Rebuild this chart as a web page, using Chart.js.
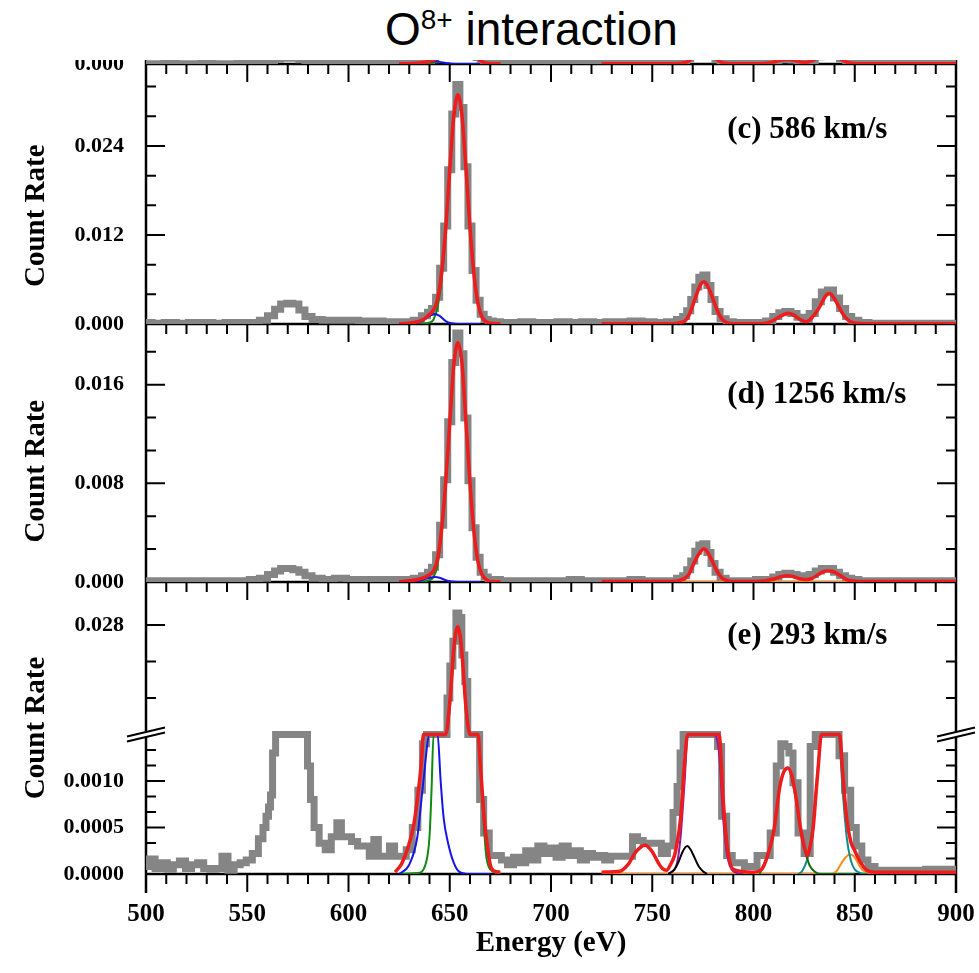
<!DOCTYPE html>
<html>
<head>
<meta charset="utf-8">
<script src="https://cdn.jsdelivr.net/npm/chart.js@4.4.1/dist/chart.umd.min.js"></script>
<style>
  html, body { margin: 0; padding: 0; background: #fff; }
  #wrap { position: relative; width: 979px; height: 973px; }
  #box { position: absolute; left: 0; top: 0; width: 979px; height: 973px; }
  #title { position: absolute; left: 0; top: 0; width: 979px; height: 60px; background: #fff; z-index: 2;
           font-family: "Liberation Sans", Arial, sans-serif; font-size: 46px; line-height: 58px; color: #000;
           padding-left: 385px; box-sizing: border-box; white-space: nowrap; }
  #title sup { font-size: 28px; vertical-align: 0; position: relative; top: -16px; }
</style>
</head>
<body>
<div id="wrap">
  <div id="box"><canvas id="myChart"></canvas></div>
  <div id="title">O<sup>8+</sup> interaction</div>
</div>
<script>
const serif = '"Liberation Serif", "Times New Roman", serif';

// measured spectra of panels b, c, d (one energy grid, eV)
const gridE = [500,506,512,518,524,530,536,542,548,554,
  558,562,565,568,571,574,577,580,584,590,
  596,602,608,614,620,625,630,634,638,640,
  642,644,646,648,650,652,654,656,658,660,
  662,664,666,668,670,673,677,682,688,694,
  700,706,712,718,724,730,736,742,748,754,
  760,764,766,768,770,772,774,776,778,780,
  782,785,788,792,798,804,808,811,814,817,
  820,823,826,829,832,835,838,841,844,847,
  850,854,860,866,872,878,884,890,896,900];
const grayB = [0.0002,0.0002,0.0003,0.0002,0.0002,0.0003,0.0002,0.0002,0.0003,0.0003,
  0.0008,0.0022,0.0036,0.0044,0.0046,0.0043,0.0032,0.0016,0.0007,0.0004,
  0.0004,0.0003,0.0004,0.0003,0.0004,0.0005,0.0005,0.0008,0.0014,0.0022,
  0.0032,0.0058,0.0110,0.0190,0.0290,0.0380,0.0420,0.0380,0.0280,0.0180,
  0.0098,0.0048,0.0020,0.0009,0.0005,0.0004,0.0003,0.0003,0.0003,0.0003,
  0.0003,0.0003,0.0004,0.0003,0.0003,0.0004,0.0004,0.0004,0.0004,0.0004,
  0.0005,0.0012,0.0022,0.0040,0.0066,0.0095,0.0115,0.0118,0.0095,0.0060,
  0.0032,0.0012,0.0005,0.0004,0.0004,0.0004,0.0008,0.0020,0.0032,0.0036,
  0.0030,0.0018,0.0012,0.0026,0.0055,0.0080,0.0086,0.0066,0.0038,0.0018,
  0.0008,0.0004,0.0003,0.0003,0.0003,0.0003,0.0003,0.0003,0.0003,0.0003];
const grayC = [0.0002,0.0001,0.0002,0.0001,0.0002,0.0002,0.0001,0.0002,0.0002,0.0002,
  0.0005,0.0011,0.0020,0.0027,0.0028,0.0027,0.0019,0.0010,0.0006,0.0005,
  0.0005,0.0005,0.0004,0.0004,0.0003,0.0003,0.0003,0.0005,0.0011,0.0016,
  0.0021,0.0036,0.0075,0.0132,0.0208,0.0283,0.0323,0.0292,0.0212,0.0132,
  0.0072,0.0032,0.0013,0.0006,0.0004,0.0003,0.0002,0.0002,0.0003,0.0002,
  0.0002,0.0003,0.0002,0.0003,0.0002,0.0003,0.0003,0.0004,0.0003,0.0002,
  0.0003,0.0006,0.0010,0.0018,0.0033,0.0050,0.0063,0.0066,0.0052,0.0033,
  0.0017,0.0007,0.0003,0.0002,0.0002,0.0002,0.0004,0.0010,0.0015,0.0017,
  0.0014,0.0009,0.0006,0.0014,0.0030,0.0043,0.0046,0.0035,0.0021,0.0010,
  0.0005,0.0002,0.0001,0.0001,0.0001,0.0001,0.0001,0.0001,0.0001,0.0001];
const grayD = [0.0001,0.0001,0.0001,0.0001,0.0001,0.0001,0.0001,0.0001,0.0001,0.0002,
  0.0003,0.0006,0.0009,0.0011,0.0011,0.0010,0.0008,0.0005,0.0003,0.0002,
  0.0003,0.0002,0.0002,0.0002,0.0002,0.0002,0.0002,0.0003,0.0005,0.0008,
  0.0012,0.0022,0.0046,0.0083,0.0130,0.0178,0.0202,0.0185,0.0133,0.0082,
  0.0044,0.0020,0.0008,0.0004,0.0002,0.0002,0.0001,0.0001,0.0001,0.0001,
  0.0001,0.0001,0.0002,0.0001,0.0001,0.0001,0.0001,0.0002,0.0001,0.0001,
  0.0001,0.0003,0.0005,0.0010,0.0017,0.0025,0.0030,0.0031,0.0024,0.0015,
  0.0008,0.0003,0.0001,0.0001,0.0001,0.0002,0.0002,0.0004,0.0006,0.0007,
  0.0006,0.0005,0.0004,0.0006,0.0009,0.0011,0.0011,0.0008,0.0005,0.0003,
  0.0002,0.0001,0.0001,0.0001,0.0001,0.0001,0.0001,0.0001,0.0001,0.0001];

// fit energies shared by panels b, c, d
const fit1E = [625,630,634,636,638,640,642,644,646,648,650,652,654,656,658,660,662,664,666,668,670,675];
const fit2E = [725,760,764,766,768,770,772,774,775.5,777,779,781,783,785,787,790,800,806,810,813,
  817,820,823,826,829,832,834,836,837.5,840,842,844,846,848,851,856,860,900];
const blueGridE = [630,634,637,640,642.5,645,648,651,654,665];

// panel b (only its lower edge is visible)
const fitB1 = [0.0001,0.0002,0.0005,0.0009,0.0014,0.002,0.003,0.0055,0.0105,0.018,0.028,0.037,0.040,0.037,0.028,0.018,0.0095,0.0042,0.0016,0.0006,0.0002,0.0001];
const greenB1 = [0,0.00002,0.00005,0.0001,0.0002,0.0004,0.001,0.0036,0.0092,0.0175,0.0277,0.0368,0.040,0.037,0.028,0.018,0.0095,0.0042,0.0016,0.0006,0.0002,0];
const blueB = [0,0.0003,0.0009,0.0016,0.002,0.0016,0.0007,0.0002,0.00003,0];
const fitB2 = [0.0001,0.0001,0.0004,0.0009,0.002,0.0045,0.0075,0.0098,0.0105,0.0098,0.0075,0.0046,0.0022,0.0008,0.0003,0.0001,0.0001,0.0004,0.0014,0.0028,
  0.0034,0.0028,0.0016,0.0012,0.0025,0.0052,0.0068,0.0078,0.0082,0.0068,0.0048,0.0028,0.0014,0.0006,0.0002,0.0001,0.0001,0.0001];

// panel c, 586 km/s
const fitC1 = [0.00002,0.0001,0.0003,0.0005,0.0008,0.0013,0.0019,0.0034,0.0070,0.0128,0.0208,0.0280,0.0309,0.0282,0.0210,0.0130,0.0066,0.0027,0.0009,0.0003,0.0001,0.00002];
const greenC1 = [0,0.00001,0.00002,0.00005,0.0001,0.0002,0.0006,0.0023,0.0060,0.0124,0.0206,0.0279,0.0309,0.0282,0.0210,0.0130,0.0066,0.0027,0.0009,0.0003,0.0001,0];
const blueC = [0,0.0001,0.0005,0.0011,0.00135,0.0011,0.0004,0.0001,0.00001,0];
const fitC2 = [0.00003,0.00003,0.0002,0.0004,0.0011,0.0025,0.0041,0.0054,0.0057,0.0053,0.0041,0.0026,0.0013,0.0005,0.00015,0.00004,0.00003,0.0001,0.0005,0.0010,
  0.00144,0.0012,0.0006,0.0003,0.0009,0.0020,0.0030,0.0039,0.0041,0.0034,0.0024,0.0014,0.0007,0.0003,0.0001,0.00004,0.00003,0.00003];
const purpleCE = [760,764,766,768,770,772,774,775.5,777,779,781,783,785,788,795];
const purpleC = [0,0.00015,0.0004,0.001,0.0024,0.004,0.0053,0.0056,0.0052,0.004,0.0025,0.0012,0.0004,0.0001,0];

// panel d, 1256 km/s
const fitD1 = [0.00002,0.0001,0.0002,0.0003,0.0004,0.0006,0.0009,0.0019,0.0043,0.0081,0.0129,0.0176,0.0194,0.0178,0.0130,0.0080,0.0040,0.0016,0.0006,0.0002,0.00005,0.00002];
const greenD1 = [0,0.00001,0.00002,0.00004,0.00007,0.00015,0.0004,0.0014,0.0040,0.0079,0.0127,0.0175,0.0194,0.0178,0.0130,0.0080,0.0040,0.0016,0.0006,0.0002,0.00005,0];
const blueD = [0,0.00005,0.0002,0.00035,0.0004,0.00035,0.00015,0.00004,0,0];
const fitD2 = [0.00004,0.00004,0.00015,0.0003,0.0006,0.0013,0.0020,0.0025,0.0027,0.0025,0.0019,0.0012,0.0006,0.00025,0.0001,0.00005,0.00004,0.0001,0.00025,0.0004,
  0.0005,0.00042,0.00026,0.0002,0.0003,0.0006,0.0008,0.0009,0.0009,0.0008,0.0006,0.0004,0.0002,0.0001,0.00005,0.00004,0.00004,0.00004];
const orangeDE = [725,900];
const orangeD = [0,0];

// panel e, 293 km/s (broken axis)
const eGrayE = [500,503,506,509,512,515,518,521,524,527,
  530,533,536,539,542,545,548,551,554,557,
  558.5,560,561,562,563,565,568,571,574,577,
  579,580.5,582,584,587,590,593,595.5,597.5,600,
  603,606,609,611.5,613.5,616,619,621.5,624,627,
  630,633,635.5,637.5,639.5,642,644,646,648,649.3,
  650.8,652.3,653.8,655.2,656.7,658.2,659.6,661,662.5,664,
  665.5,668,671,674,677,680,683,686,689,692,
  695,698,701,704,707,710,713,716,719,722,
  725,728,731,735,739,741.5,744,747,750,753,
  756,759,761.5,763,764.5,766,770,775,779,781.5,
  783,785.5,788,791,794,797,800,803.5,806.5,810,
  812.5,814.5,816.5,818.5,820.5,823.5,826.5,829.5,831.5,835,
  838,841,843.5,846.5,849.5,852,855,858,862,870,
  880,890,900];
const eGray = [0.00008,0.00016,0.00006,0.00012,0.00005,0.0001,0.00014,0.00006,0.0001,0.00012,
  0.00006,0.00005,0.00006,0.00019,0.00004,0.0001,0.00012,0.00015,0.00022,0.00038,
  0.0005,0.00062,0.00072,0.00085,0.0013,0.003,0.0045,0.005,0.0046,0.0035,
  0.002,0.00116,0.0008,0.0005,0.00033,0.00026,0.0004,0.00055,0.0004,0.0004,
  0.00035,0.0003,0.0003,0.00019,0.00037,0.00019,0.00019,0.0003,0.00019,0.00019,
  0.00026,0.0005,0.0009,0.0014,0.003,0.0048,0.0064,0.009,0.0135,0.02,
  0.0235,0.0262,0.0293,0.0288,0.0247,0.0218,0.016,0.01,0.004,0.0016,
  0.0008,0.00044,0.0002,0.0002,0.00015,0.0001,0.00018,0.00012,0.00025,0.00015,
  0.0003,0.00022,0.00028,0.00018,0.0003,0.0002,0.00025,0.00015,0.00022,0.00018,
  0.0002,0.00015,0.00019,0.00019,0.00019,0.0004,0.00036,0.00033,0.00033,0.00033,
  0.00022,0.0003,0.00066,0.00094,0.0013,0.0028,0.005,0.0062,0.0045,0.0022,
  0.00137,0.00062,0.0002,0.00012,0.00012,0.00008,0.00008,0.0002,0.0002,0.00044,
  0.00116,0.0014,0.00137,0.0013,0.00098,0.00044,0.00022,0.00137,0.0025,0.004,
  0.0045,0.0032,0.00127,0.0009,0.0005,0.0003,0.00015,0.00008,0.00004,0.00004,
  0.00004,0.00005,0.00005];
const eFit1E = [623,626,628,630,632,634,636,637,638,640,642,644,646,648,650,652,653,654,655,656,658,660,662,664,665,666,667,668,670,672,675];
const eFit1 = [0.00002,0.0001,0.0002,0.00033,0.0005,0.0008,0.0012,0.0015,0.002,0.0035,0.0048,0.0062,0.0085,0.0128,0.0195,0.0254,0.0272,0.0278,0.027,0.025,0.019,0.0118,0.006,0.0016,0.0012,0.0009,0.0006,0.0004,0.0001,0.00003,0.00002];
const eBlue1E = [625,630,634,637,640,642,644,645.5,647,649,652,655,660,670];
const eBlue1 = [0,0.0001,0.0004,0.001,0.0016,0.0019,0.0015,0.001,0.0006,0.00035,0.00012,0.00002,0,0];
const eGreen1E = [625,634,638,640,641,642,643,644,646,648,650,652,654,656,658,660,662,664,666,668,670,675];
const eGreen1 = [0,0.00001,0.0001,0.0004,0.0009,0.0015,0.0024,0.0038,0.0075,0.0124,0.0188,0.0248,0.0276,0.0247,0.0185,0.0115,0.0058,0.0023,0.0008,0.0002,0.00005,0];
const eFit2E = [725,734,738,742,746.5,750,753,755,757,759,761,762,764,766,767.5,770,775,780,783,785,
  787,790,800,804,807,810,813,815,817,819,821,823,825,826.6,828,829.5,831,832,833.5,836,
  838,840,842.5,844,846,848,850,853,856,860,900];
const eFit2 = [0.00002,0.00003,0.0001,0.00024,0.00031,0.00024,0.00012,0.00006,0.00004,0.0001,0.0002,0.0003,0.0006,0.0012,0.0016,0.0032,0.0058,0.004,0.0015,0.0008,
  0.0003,0.00005,0.00002,0.00005,0.0002,0.00046,0.00094,0.0011,0.00114,0.00105,0.00082,0.00052,0.0003,0.0002,0.0003,0.0005,0.0009,0.00116,0.0016,0.0032,
  0.0038,0.0033,0.0017,0.0011,0.0006,0.00035,0.00025,0.00012,0.00004,0.00002,0.00002];
const eBlackE = [758,761,763,765,767.3,769,771,773,775,777];
const eBlack = [0,0.00005,0.00013,0.00024,0.0003,0.00026,0.00017,0.00008,0.00003,0];
const ePurpleE = [758,762,764,766,767.5,770,775,780,783,785,787,790,795];
const ePurple = [0,0.0001,0.0004,0.001,0.0016,0.0032,0.0056,0.0036,0.0013,0.0006,0.0002,0.00003,0];
const eGreen2E = [803,807,810,813,817,821,823,825,826.6,828,830,833,840,850];
const eGreen2 = [0,0.0002,0.00046,0.00094,0.00114,0.0008,0.0005,0.00028,0.00016,0.00008,0.00003,0,0,0];
const eTealE = [822,824,826.6,828,830,832,834,838,842,844,846,848,850,853,856];
const eTeal = [0,0.00003,0.00016,0.0003,0.0007,0.0012,0.0022,0.0036,0.0019,0.0009,0.0004,0.00015,0.00005,0.00001,0];
const eOrangeE = [725,838,841,843,845.5,847.7,850,852,854,857,860,900];
const eOrange = [0,0,0.00003,0.0001,0.00018,0.00021,0.00018,0.0001,0.00004,0.00001,0,0];

// tick labels
const bTicks = [0];
const cTicks = [0, 0.012, 0.024];
const dTicks = [0, 0.008, 0.016];
const eTicks = [0, 0.0005, 0.0010, 0.028];
const eTickText = ['0.0000', '0.0005', '0.0010', '0.028'];

// broken axis of panel e: 0..0.0015 below the break, 0.016..0.0327 above it
const eLowMax = 0.0015, eHighMin = 0.016, eHighMax = 0.0327, eSplit = 0.478;
function ePos(v) {
  if (v <= eLowMax) return v / eLowMax * eSplit;
  if (v < eHighMin) return eSplit;
  return eSplit + (v - eHighMin) / (eHighMax - eHighMin) * (1 - eSplit);
}
const same = v => v;

function tickList(majors, step, from, to) {
  const out = [];
  for (let v = from; v <= to + 1e-9; v += step) {
    out.push({ v: v, major: majors.some(m => Math.abs(m - v) < step / 10) });
  }
  return out;
}

const panels = [
  { id: 'yb', pos: same, yTicks: tickList(bTicks, 1, 0, 0) },
  { id: 'yc', pos: same, yTicks: tickList(cTicks, 0.004, 0, 0.034) },
  { id: 'yd', pos: same, yTicks: tickList(dTicks, 0.008 / 3, 0, 0.0205) },
  { id: 'ye', pos: ePos, yTicks: tickList([0, 0.0005, 0.001], 0.0005 / 3, 0, 0.0014)
      .concat([{ v: 0.020, major: false }, { v: 0.024, major: false }, { v: 0.028, major: true }]) }
];
const panelLabels = [
  { id: 'yc', text: '(c) 586 km/s', e: 787, v: 0.0262 },
  { id: 'yd', text: '(d) 1256 km/s', e: 787, v: 0.01517 },
  { id: 'ye', text: '(e) 293 km/s', e: 787, v: 0.0268 }
];

const RED = '#ee1c1c', GRAY = '#858585';

function pts(xs, ys, f) {
  return xs.map((x, i) => ({ x: x, y: f ? f(ys[i]) : ys[i] }));
}
function curve(axis, xs, ys, color, width, order, f) {
  return { data: pts(xs, ys, f), yAxisID: axis, borderColor: color, borderWidth: width,
    pointRadius: 0, fill: false, cubicInterpolationMode: 'monotone', order: order };
}
function measured(axis, xs, ys, f) {
  return { data: pts(xs, ys, f), yAxisID: axis, borderColor: GRAY, borderWidth: 7,
    pointRadius: 0, fill: false, stepped: 'middle', order: 9 };
}

const datasets = [
  measured('yb', gridE, grayB),
  curve('yb', fit1E, greenB1, '#118811', 2, 2),
  curve('yb', blueGridE, blueB, '#1515e6', 2, 1),
  curve('yb', fit1E, fitB1, RED, 3.5, 0),
  curve('yb', fit2E, fitB2, RED, 3.5, 0),

  measured('yc', gridE, grayC),
  curve('yc', fit1E, greenC1, '#118811', 2, 2),
  curve('yc', blueGridE, blueC, '#1515e6', 2, 1),
  curve('yc', purpleCE, purpleC, '#c020c0', 2, 2),
  curve('yc', fit1E, fitC1, RED, 3.5, 0),
  curve('yc', fit2E, fitC2, RED, 3.5, 0),

  measured('yd', gridE, grayD),
  curve('yd', fit1E, greenD1, '#118811', 2, 2),
  curve('yd', blueGridE, blueD, '#1515e6', 2, 1),
  curve('yd', orangeDE, orangeD, '#ff8c1a', 2, 2),
  curve('yd', fit1E, fitD1, RED, 3.5, 0),
  curve('yd', fit2E, fitD2, RED, 3.5, 0),

  measured('ye', eGrayE, eGray, ePos),
  curve('ye', eGreen1E, eGreen1, '#118811', 2, 2, ePos),
  curve('ye', eBlue1E, eBlue1, '#1515e6', 2, 1, ePos),
  curve('ye', eOrangeE, eOrange, '#ff8c1a', 2, 3, ePos),
  curve('ye', eBlackE, eBlack, '#000000', 2, 2, ePos),
  curve('ye', ePurpleE, ePurple, '#8b1c9e', 2, 2, ePos),
  curve('ye', eGreen2E, eGreen2, '#107010', 2, 2, ePos),
  curve('ye', eTealE, eTeal, '#0e8c8c', 2, 2, ePos),
  curve('ye', eFit1E, eFit1, RED, 3.5, 0, ePos),
  curve('ye', eFit2E, eFit2, RED, 3.5, 0, ePos)
];

function yAxis(weight, stackWeight, max, ticks, fmt, titleText) {
  return {
    type: 'linear', position: 'left', stack: 'panels', stackWeight: stackWeight, weight: weight,
    min: 0, max: max, offset: false,
    grid: { display: false, drawTicks: false }, border: { display: false },
    afterFit: s => { s.width = 146; s.paddingTop = 0; s.paddingBottom = 0; },
    afterBuildTicks: s => { s.ticks = ticks.map(v => ({ value: v })); },
    ticks: { autoSkip: false, padding: 22, color: '#000',
      font: { family: serif, size: 22, weight: 'bold' }, callback: fmt },
    title: { display: !!titleText, text: titleText || '', color: '#000',
      font: { family: serif, size: 29, weight: 'bold' }, padding: { top: 19, bottom: 0 } }
  };
}

const frame = {
  id: 'frame',
  beforeDatasetsDraw(chart) {
    const { ctx, chartArea: a, scales } = chart;
    const x = scales.x;
    ctx.save();
    ctx.strokeStyle = '#000';
    ctx.lineWidth = 2.5;
    ctx.beginPath();
    ctx.moveTo(a.left, a.top); ctx.lineTo(a.left, a.bottom + 19);
    ctx.moveTo(a.right, a.top); ctx.lineTo(a.right, a.bottom + 19);
    ctx.stroke();
    panels.forEach(p => {
      const s = scales[p.id];
      const yb = s.bottom;
      ctx.lineWidth = 2.5;
      ctx.beginPath(); ctx.moveTo(a.left, yb); ctx.lineTo(a.right, yb); ctx.stroke();
      ctx.lineWidth = 2;
      ctx.beginPath();
      for (let e = 500; e <= 900; e += 10) {
        const px = x.getPixelForValue(e);
        const len = e % 50 === 0 ? 18 : 10;
        ctx.moveTo(px, yb); ctx.lineTo(px, yb + len);
      }
      p.yTicks.forEach(t => {
        const py = s.getPixelForValue(p.pos(t.v));
        const len = t.major ? 19 : 10;
        ctx.moveTo(a.left, py); ctx.lineTo(a.left + len, py);
        ctx.moveTo(a.right, py); ctx.lineTo(a.right - len, py);
      });
      ctx.stroke();
    });
    ctx.restore();
  },
  afterDatasetsDraw(chart) {
    const { ctx, chartArea: a, scales } = chart;
    const x = scales.x;
    ctx.save();
    // break marks on panel e
    const yb = scales.ye.getPixelForValue(eSplit);
    [a.left, a.right].forEach(x0 => {
      ctx.fillStyle = '#fff';
      ctx.beginPath();
      ctx.moveTo(x0 - 19, yb + 7); ctx.lineTo(x0 + 19, yb - 2);
      ctx.lineTo(x0 + 19, yb - 7); ctx.lineTo(x0 - 19, yb + 2);
      ctx.closePath(); ctx.fill();
      ctx.strokeStyle = '#000'; ctx.lineWidth = 2;
      ctx.beginPath();
      ctx.moveTo(x0 - 19, yb + 7); ctx.lineTo(x0 + 19, yb - 2);
      ctx.moveTo(x0 - 19, yb + 2); ctx.lineTo(x0 + 19, yb - 7);
      ctx.stroke();
    });
    ctx.fillStyle = '#000';
    ctx.font = 'bold 31px ' + serif;
    ctx.textAlign = 'left';
    ctx.textBaseline = 'middle';
    panelLabels.forEach(l => {
      const p = panels.find(q => q.id === l.id);
      ctx.fillText(l.text, x.getPixelForValue(l.e), scales[l.id].getPixelForValue(p.pos(l.v)));
    });
    ctx.restore();
  }
};

const nb = '\u00a0';
const ctx = document.getElementById('myChart');
const myChart = new Chart(ctx, {
  type: 'line',
  data: { datasets: datasets },
  options: {
    responsive: true,
    maintainAspectRatio: false,
    animation: false,
    layout: { padding: { top: 24, right: 23, bottom: 0, left: 0 } },
    plugins: { legend: { display: false }, tooltip: { enabled: false } },
    scales: {
      x: {
        type: 'linear', min: 500, max: 900,
        grid: { display: false, drawTicks: false }, border: { display: false },
        afterFit: s => { s.height = 99; s.paddingLeft = 0; s.paddingRight = 0; },
        ticks: { stepSize: 50, autoSkip: false, maxRotation: 0, padding: 26, color: '#000',
          font: { family: serif, size: 25, weight: 'bold' } },
        title: { display: true, text: 'Energy (eV)', color: '#000',
          font: { family: serif, size: 29, weight: 'bold' }, padding: { top: 0, bottom: 12 } }
      },
      yb: yAxis(4, 40, 0.03, bTicks, v => v.toFixed(3), ''),
      yc: yAxis(3, 260, 0.03505, cTicks, v => v.toFixed(3), 'Count Rate' + nb.repeat(6)),
      yd: yAxis(2, 258, 0.02092, dTicks, v => v.toFixed(3), 'Count Rate' + nb.repeat(5)),
      ye: yAxis(1, 292, 1, eTicks.map(ePos), (v, i) => eTickText[i], 'Count Rate')
    }
  },
  plugins: [frame]
});
</script>
</body>
</html>
